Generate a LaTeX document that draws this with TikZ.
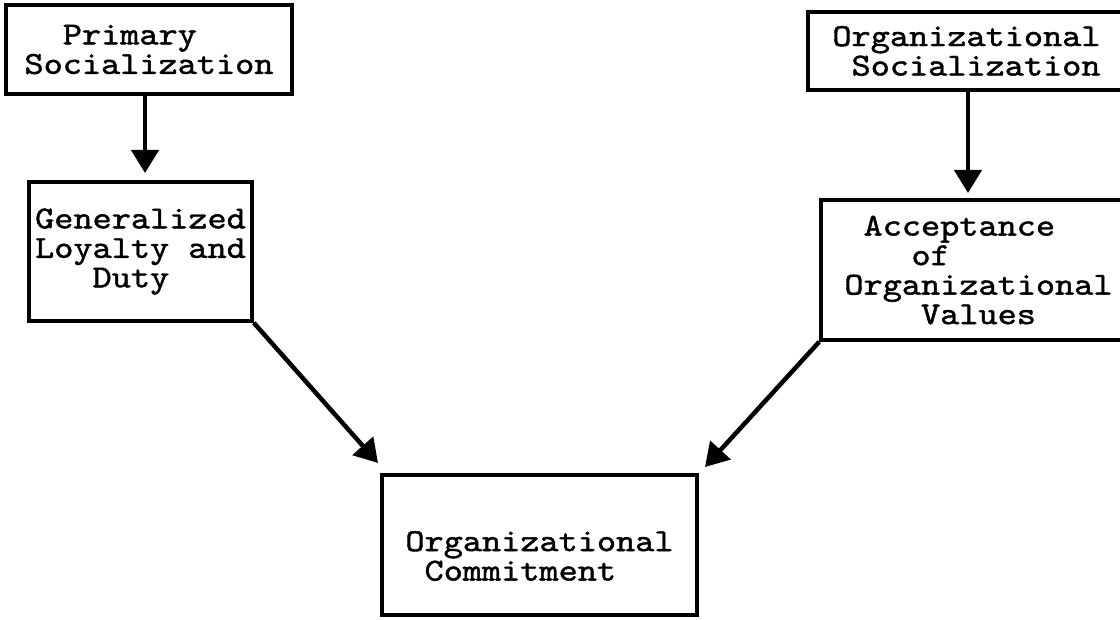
\documentclass[tikz,border=0pt]{standalone}
\usepackage{fontspec}
\newfontfamily\courfont[FakeStretch=1.14,FakeBold=1.4]{lmmono10-regular.otf}
\usetikzlibrary{arrows.meta}
\begin{document}
\begin{tikzpicture}[x=1pt,y=-1pt,
  box/.style={draw, line width=3.5pt, inner sep=0pt,
    font=\courfont\fontsize{32pt}{29.5pt}\selectfont, align=left},
  arr/.style={line width=4.5pt, -{Triangle[length=23pt,width=27pt]}}]
\useasboundingbox (0,0) rectangle (1120,620);
\node[box, minimum width=286pt, minimum height=89pt] (ps) at (149,49.5)
  {\phantom{xx}Primary\\Socialization};
\node[box, minimum width=223pt, minimum height=139pt] (gen) at (140.5,251.5)
  {Generalized\\Loyalty and\\\phantom{xxx}Duty};
\node[box, minimum width=317pt, minimum height=78pt] (os) at (966.5,51)
  {Organizational\\\phantom{x}Socialization};
\node[box, minimum width=315pt, minimum height=140pt] (acc) at (978.5,270)
  {\phantom{x}Acceptance\\\phantom{xxx}\hspace*{0.3em}of\\Organizational\\\phantom{xxxx}Values};
\node[box, minimum width=315pt, minimum height=140pt] (oc) at (539.5,545)
  {\rule{0pt}{42pt}Organizational\\\phantom{x}Commitment};
\coordinate (t1) at (145,173);
\coordinate (t2) at (968,193);
\coordinate (t3) at (378,463);
\coordinate (t4) at (705,467);
\draw[arr] (ps.south -| t1) -- (t1);
\draw[arr] (os.south -| t2) -- (t2);
\draw[arr] (gen.south east) -- (t3);
\draw[arr] (acc.south west) -- (t4);
\end{tikzpicture}
\end{document}
